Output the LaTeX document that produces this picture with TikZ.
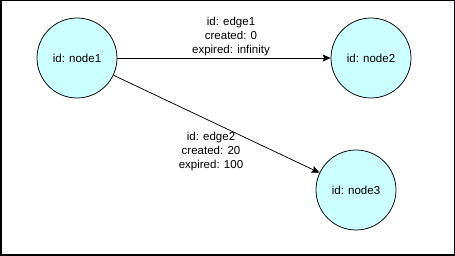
\documentclass[tikz,border=0pt]{standalone}
\usepackage{fontspec}
\setmainfont{Liberation Sans}
\usetikzlibrary{arrows.meta}
\definecolor{NodeCyan}{RGB}{204,255,255}
\definecolor{EdgeBlack}{RGB}{0,0,0}

\begin{document}
\begin{tikzpicture}[x=1pt,y=-1pt,>={Stealth[length=8pt,width=7pt,inset=1.5pt]},
    graphnode/.style={circle,draw=EdgeBlack,line width=0.75pt,fill=NodeCyan,minimum size=80pt,
      inner sep=0pt,font=\fontsize{11.5}{14}\selectfont},
    edgelabel/.style={align=center,inner sep=0pt,font=\fontsize{11.5}{14}\selectfont}]
      \useasboundingbox (0,0) rectangle (455,256);
      \draw[line width=1.5pt] (0.75,0.75) rectangle (454.25,255.25);
      \node[graphnode] (node1) at (77,58) {id: node1};
      \node[graphnode] (node2) at (371,58) {id: node2};
      \node[graphnode] (node3) at (356,190) {id: node3};
      \draw[->,EdgeBlack,line width=0.75pt] (node1) -- (node2);
      \draw[->,EdgeBlack,line width=0.75pt] (node1) -- (node3);
      \node[edgelabel] (edge1) at (231,37) {id: edge1\\created: 0\\expired: infinity};
      \node[edgelabel] (edge2) at (211,152) {id: edge2\\created: 20\\expired: 100};
    \end{tikzpicture}
\end{document}
